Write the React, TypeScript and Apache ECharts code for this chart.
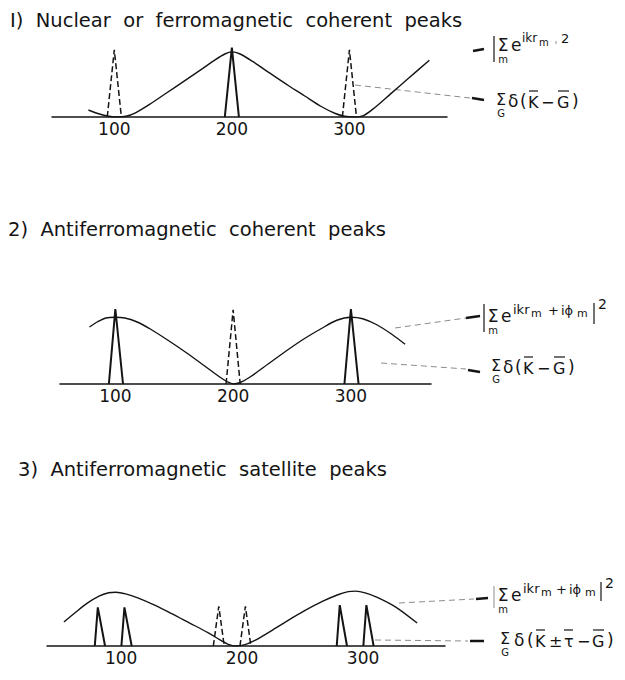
import React, { useEffect, useRef } from "react";
import * as echarts from "echarts";

const FONT = "'DejaVu Sans', 'Open Sans', sans-serif";
const INK = "#141414";
const GUIDE = "#8c8c8c";

const TITLES = [
  "I)  Nuclear  or  ferromagnetic  coherent  peaks",
  "2)  Antiferromagnetic  coherent  peaks",
  "3)  Antiferromagnetic  satellite  peaks",
];

// Reciprocal-lattice positions labelled on every axis
const TICKS = [100, 200, 300];

// Panel 1 — |Σ e^{ikr_m}|² (relative intensity, 0–100)
const P1_CURVE_X = [78, 86, 94, 102, 110, 118, 130, 145, 160, 175, 186, 194, 200, 207, 218, 232, 248, 262, 276, 288, 296, 304, 312, 322, 335, 350, 368];
const P1_CURVE_Y = [10, 5, 1.5, 0, 1, 6, 18, 35, 52, 69, 82, 90, 93, 90, 79, 63, 45, 30, 15, 5, 1, 0, 2, 14, 33, 55, 81];
const P1_SOLID_X = [200];
const P1_SOLID_H = [99];
const P1_DASHED_X = [100, 300];
const P1_DASHED_H = [96, 96];

// Panel 2 — |Σ e^{ikr_m + iφ_m}|²
const P2_CURVE_X = [78, 85, 92, 100, 108, 118, 130, 145, 160, 175, 188, 195, 200, 206, 215, 230, 245, 260, 275, 288, 300, 310, 322, 335, 346];
const P2_CURVE_Y = [76, 83, 88, 89, 88, 83, 73, 58, 42, 25, 10, 3, 0, 2, 10, 27, 44, 60, 74, 85, 89, 87, 79, 66, 53];
const P2_SOLID_X = [100, 300];
const P2_SOLID_H = [100, 100];
const P2_DASHED_X = [200];
const P2_DASHED_H = [99];

// Panel 3 — satellites at G ± τ
const TAU = 11;
const P3_CURVE_X = [61, 70, 80, 90, 98, 104, 112, 122, 135, 150, 165, 180, 190, 197, 203, 210, 218, 230, 245, 260, 275, 288, 296, 302, 310, 320, 335, 353];
const P3_CURVE_Y = [43, 59, 76, 89, 95, 96, 93, 86, 74, 58, 41, 24, 11, 3, 0, 2, 9, 24, 44, 63, 80, 92, 97, 98, 95, 87, 70, 41];
const P3_SOLID_G = [100, 300];
const P3_SOLID_H = [69, 73];
const P3_DASHED_G = [200];
const P3_DASHED_H = [71];

const PANELS = [
  { left: 52, top: 47, width: 395, height: 70, min: 47, max: 383, labelShift: 0 },
  { left: 60, top: 309, width: 371, height: 75, min: 53, max: 368, labelShift: 0 },
  { left: 47, top: 590, width: 398, height: 56, min: 47, max: 376, labelShift: 20 },
];

function curve(i: number, xs: number[], ys: number[]) {
  return {
    type: "line",
    xAxisIndex: i,
    yAxisIndex: i,
    data: xs.map((x, k) => [x, ys[k]]),
    smooth: 0.3,
    symbol: "none",
    silent: true,
    lineStyle: { color: INK, width: 1.4 },
    z: 2,
  };
}

function peak(i: number, x: number, h: number, dashed: boolean, wl: number, wr: number) {
  return {
    type: "line",
    xAxisIndex: i,
    yAxisIndex: i,
    data: [[x - wl, 0], [x, h], [x + wr, 0]],
    symbol: "none",
    silent: true,
    lineStyle: { color: INK, width: dashed ? 1.5 : 2, type: dashed ? [6, 3] : "solid" },
    z: 3,
  };
}

function txt(x: number, y: number, text: string, size: number, fill = INK) {
  return {
    type: "text",
    x,
    y,
    silent: true,
    style: {
      text,
      fill,
      fontSize: size,
      fontFamily: FONT,
      align: "left",
      verticalAlign: "middle",
      textAlign: "left",
      textVerticalAlign: "middle",
    },
  };
}

// Σ with its summation index set underneath, as one text block
function sum(cx: number, cy: number, index: string, size: number) {
  return {
    type: "text",
    x: cx,
    y: cy,
    silent: true,
    style: {
      text: `{a|Σ}\n{b|${index}}`,
      fill: INK,
      fontFamily: FONT,
      align: "center",
      verticalAlign: "middle",
      textAlign: "center",
      textVerticalAlign: "middle",
      rich: {
        a: { fontSize: size, lineHeight: size + 1, fontFamily: FONT, fill: INK, align: "center" },
        b: { fontSize: 10, lineHeight: 11, fontFamily: FONT, fill: INK, align: "center" },
      },
    },
  };
}

function ln(x1: number, y1: number, x2: number, y2: number, w: number, color = INK, dash?: number[]) {
  return {
    type: "line",
    silent: true,
    shape: { x1, y1, x2, y2 },
    style: { stroke: color, lineWidth: w, lineDash: dash },
  };
}

export default function App() {
  const ref = useRef<HTMLDivElement>(null);

  useEffect(() => {
    if (!ref.current) return;
    const chart = echarts.init(ref.current, null, { renderer: "svg" });

    const series: any[] = [];
    series.push(curve(0, P1_CURVE_X, P1_CURVE_Y));
    P1_SOLID_X.forEach((x, k) => series.push(peak(0, x, P1_SOLID_H[k], false, 6, 6)));
    P1_DASHED_X.forEach((x, k) => series.push(peak(0, x, P1_DASHED_H[k], true, 6, 6)));

    series.push(curve(1, P2_CURVE_X, P2_CURVE_Y));
    P2_SOLID_X.forEach((x, k) => series.push(peak(1, x, P2_SOLID_H[k], false, 5.5, 6.5)));
    P2_DASHED_X.forEach((x, k) => series.push(peak(1, x, P2_DASHED_H[k], true, 6, 6)));

    series.push(curve(2, P3_CURVE_X, P3_CURVE_Y));
    P3_SOLID_G.forEach((g, k) => {
      series.push(peak(2, g - TAU, P3_SOLID_H[k], false, 2.5, 6));
      series.push(peak(2, g + TAU, P3_SOLID_H[k], false, 2.5, 6));
    });
    P3_DASHED_G.forEach((g, k) => {
      series.push(peak(2, g - TAU, P3_DASHED_H[k], true, 4.5, 4.5));
      series.push(peak(2, g + TAU, P3_DASHED_H[k], true, 4.5, 4.5));
    });

    const graphic: any[] = [
      // titles
      txt(10, 20, TITLES[0], 19.5),
      txt(8, 229, TITLES[1], 19.5),
      txt(18, 469, TITLES[2], 19.5),

      // panel 1 annotations
      ln(473, 51, 484, 49, 2.5),
      ln(494, 36, 494, 62, 1.2),
      sum(503, 50, "m", 17),
      txt(511, 45, "e", 17),
      txt(522, 38, "ikr", 12),
      txt(539, 42, "m", 10),
      ln(556, 41, 556, 44, 1, GUIDE),
      txt(561, 38, "2", 13),

      ln(355, 85, 470, 98, 1, GUIDE, [6, 4]),
      ln(472, 98, 484, 100, 2.5),
      sum(501, 105, "G", 16),
      txt(508, 101, "δ", 17),
      txt(520, 101, "(", 17),
      txt(528, 102, "K", 16),
      ln(529, 91, 538, 91, 1.2),
      txt(541, 102, "−", 16),
      txt(557, 102, "G", 16),
      ln(558, 91, 569, 91, 1.2),
      txt(572, 101, ")", 17),

      // panel 2 annotations
      ln(395, 328, 466, 318, 1, GUIDE, [6, 4]),
      ln(466, 318, 480, 316, 2.5),
      ln(484, 304, 484, 332, 1.2),
      sum(493, 321, "m", 17),
      txt(501, 316, "e", 17),
      txt(513, 309, "ikr", 13),
      txt(531, 313, "m", 11),
      txt(548, 310, "+", 13),
      txt(561, 310, "iϕ", 13),
      txt(577, 313, "m", 11),
      ln(594, 303, 594, 324, 1.2),
      txt(598, 304, "2", 14),

      ln(381, 363, 466, 369, 1, GUIDE, [6, 4]),
      ln(468, 370, 480, 372, 2.5),
      sum(496, 371, "G", 16),
      txt(503, 367, "δ", 17),
      txt(515, 367, "(", 17),
      txt(523, 368, "K", 16),
      ln(524, 357, 533, 357, 1.2),
      txt(537, 368, "−", 16),
      txt(553, 368, "G", 16),
      ln(554, 357, 565, 357, 1.2),
      txt(568, 367, ")", 17),

      // panel 3 annotations
      ln(399, 603, 474, 599, 1, GUIDE, [6, 4]),
      ln(476, 599, 488, 598, 2.5),
      ln(494, 586, 494, 608, 1, GUIDE),
      sum(503, 600, "m", 17),
      txt(511, 595, "e", 17),
      txt(523, 588, "ikr", 13),
      txt(541, 592, "m", 11),
      txt(556, 589, "+", 13),
      txt(569, 589, "iϕ", 13),
      txt(585, 592, "m", 11),
      ln(601, 582, 601, 601, 1.2),
      txt(605, 583, "2", 14),

      ln(375, 640, 468, 641, 1, GUIDE, [6, 4]),
      ln(470, 641, 484, 641, 2.5),
      sum(505, 644, "G", 16),
      txt(514, 640, "δ", 17),
      txt(527, 640, "(", 17),
      txt(535, 641, "K", 16),
      ln(536, 630, 545, 630, 1.2),
      txt(549, 641, "±", 16),
      txt(564, 641, "τ", 16),
      ln(564, 630, 573, 630, 1.2),
      txt(577, 641, "−", 16),
      txt(592, 641, "G", 16),
      ln(593, 630, 604, 630, 1.2),
      txt(607, 640, ")", 17),
    ];

    chart.setOption({
      animation: false,
      backgroundColor: "#ffffff",
      grid: PANELS.map((p) => ({ left: p.left, top: p.top, width: p.width, height: p.height })),
      xAxis: PANELS.map((p, i) => ({
        type: "value",
        gridIndex: i,
        min: p.min,
        max: p.max,
        axisLine: { show: true, lineStyle: { color: INK, width: 1.5 } },
        axisTick: { show: false },
        splitLine: { show: false },
        axisLabel: {
          customValues: TICKS,
          color: INK,
          fontSize: 17,
          fontFamily: FONT,
          margin: 3,
          padding: [0, 0, 0, p.labelShift],
        },
      })),
      yAxis: PANELS.map((_, i) => ({
        type: "value",
        gridIndex: i,
        min: 0,
        max: 100,
        show: false,
      })),
      series,
      graphic,
    });

    return () => chart.dispose();
  }, []);

  return (
    <div
      ref={ref}
      style={{ position: "absolute", left: 0, top: 0, width: 625, height: 680, background: "#fff" }}
    />
  );
}
